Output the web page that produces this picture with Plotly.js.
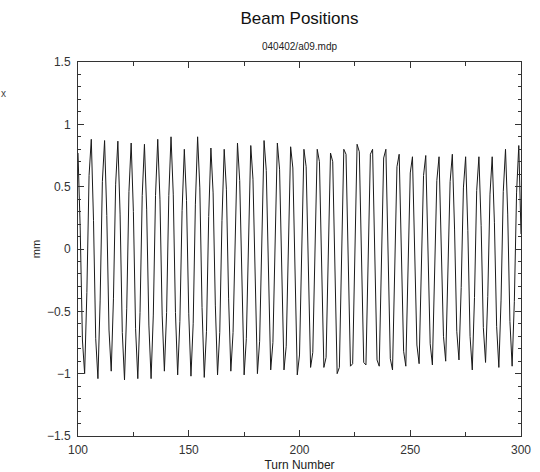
<!DOCTYPE html>
<html>
<head>
<meta charset="utf-8">
<script src="https://cdn.plot.ly/plotly-3.0.1.min.js"></script>
<style>html,body{margin:0;padding:0;background:#fff;}#chart{width:540px;height:472px;}</style>
</head>
<body>
<div id="chart"></div>
<script>
// Beam position (mm) per turn, turns 100..300
const firstTurn = 100;
const positionMM = [
  0.77, 0.16, -0.73, -1.00, -0.35, 0.59,
  0.88, 0.23, -0.72, -1.04, -0.41, 0.54,
  0.87, 0.27, -0.65, -0.98, -0.40, 0.52,
  0.865, 0.28, -0.67, -1.05, -0.48, 0.46,
  0.85, 0.30, -0.64, -1.04, -0.51, 0.43,
  0.84, 0.32, -0.61, -1.04, -0.53, 0.43,
  0.88, 0.40, -0.53, -0.98, -0.51, 0.43,
  0.90, 0.44, -0.51, -1.01, -0.58, 0.31,
  0.80, 0.39, -0.52, -1.02, -0.60, 0.36,
  0.90, 0.49, -0.47, -1.03, -0.66, 0.26,
  0.81, 0.45, -0.45, -1.01, -0.67, 0.23,
  0.80, 0.48, -0.40, -0.98, -0.67, 0.24,
  0.85, 0.55, -0.38, -1.01, -0.72, 0.19,
  0.83, 0.56, -0.35, -1.00, -0.74, 0.19,
  0.87, 0.63, -0.28, -0.97, -0.75, 0.15,
  0.85, 0.64, -0.26, -0.97, -0.78, 0.11,
  0.82, 0.65, -0.26, -1.01, -0.85, 0.05,
  0.80, 0.66, -0.20, -0.95, -0.83, 0.04,
  0.80, 0.70, -0.17, -0.95, -0.87, -0.01,
  0.77, 0.70, -0.18, -1.00, -0.95, -0.05,
  0.80, 0.76, -0.10, -0.94, -0.92, -0.04,
  0.84, 0.78, -0.03, -0.91, -0.93, -0.09,
  0.76, 0.80, -0.02, -0.89, -0.94, -0.13,
  0.73, 0.80, 0.00, -0.88, -0.97, -0.20,
  0.66, 0.76, 0.02, -0.82, -0.94, -0.22,
  0.61, 0.74, 0.05, -0.77, -0.92, -0.24,
  0.59, 0.75, 0.08, -0.76, -0.93, -0.28,
  0.55, 0.74, 0.12, -0.70, -0.90, -0.28,
  0.54, 0.76, 0.16, -0.66, -0.89, -0.31,
  0.49, 0.74, 0.15, -0.70, -0.97, -0.39,
  0.47, 0.74, 0.19, -0.63, -0.91, -0.38,
  0.44, 0.74, 0.21, -0.62, -0.95, -0.41,
  0.46, 0.80, 0.28, -0.58, -0.94, -0.42,
  0.45, 0.83, 0.12
];
const turns = positionMM.map((_, i) => firstTurn + i);

const xTickVals = [100, 150, 200, 250, 300];
const yTickVals = [-1.5, -1, -0.5, 0, 0.5, 1, 1.5];

const FONT = 'Liberation Sans, Arial, sans-serif';
const axisCommon = {
  showgrid: false, zeroline: false,
  showline: true, linecolor: '#333', linewidth: 1, mirror: 'ticks',
  ticks: 'inside', ticklen: 6, tickcolor: '#333', tickwidth: 1,
  tickfont: {family: FONT, size: 12, color: '#333'}
};

const data = [{
  x: turns, y: positionMM, type: 'scatter', mode: 'lines',
  line: {color: '#1a1a1a', width: 1}, hoverinfo: 'none'
}];

const layout = {
  width: 540, height: 472,
  margin: {l: 78, r: 19, t: 62, b: 36},
  paper_bgcolor: '#fff', plot_bgcolor: '#fff',
  showlegend: false,
  title: {text: 'Beam Positions', font: {family: FONT, size: 17, color: '#111'},
          x: 0.5546, xanchor: 'center', y: 0.962, yanchor: 'middle'},
  xaxis: Object.assign({}, axisCommon, {
    range: [100, 300], tickvals: xTickVals, ticktext: xTickVals.map(String),
    ticklabelstandoff: 3,
    minor: {dtick: 25, tick0: 100, ticks: 'inside', ticklen: 4, tickcolor: '#333'},
    title: {text: 'Turn Number', font: {family: FONT, size: 12, color: '#222'}, standoff: 4}
  }),
  yaxis: Object.assign({}, axisCommon, {
    range: [-1.5, 1.5], tickvals: yTickVals,
    ticktext: ['\u22121.5', '\u22121', '\u22120.5', '0', '0.5', '1', '1.5'],
    ticklabelstandoff: 4,
    minor: {dtick: 0.1, tick0: 0, ticks: 'inside', ticklen: 3, tickcolor: '#333'},
    title: {text: 'mm', font: {family: FONT, size: 11, color: '#222'}, standoff: 4}
  }),
  annotations: [
    {text: '040402/a09.mdp', xref: 'paper', yref: 'paper', x: 0.5, y: 1, yshift: 8,
     xanchor: 'center', yanchor: 'bottom', showarrow: false,
     font: {family: FONT, size: 10, color: '#222'}},
    {text: 'x', xref: 'paper', yref: 'paper', x: 0, y: 1, xshift: -79, yshift: -31,
     xanchor: 'left', yanchor: 'middle', showarrow: false,
     font: {family: FONT, size: 10, color: '#444'}}
  ]
};

Plotly.newPlot('chart', data, layout, {displayModeBar: false, staticPlot: true});
</script>
</body>
</html>
